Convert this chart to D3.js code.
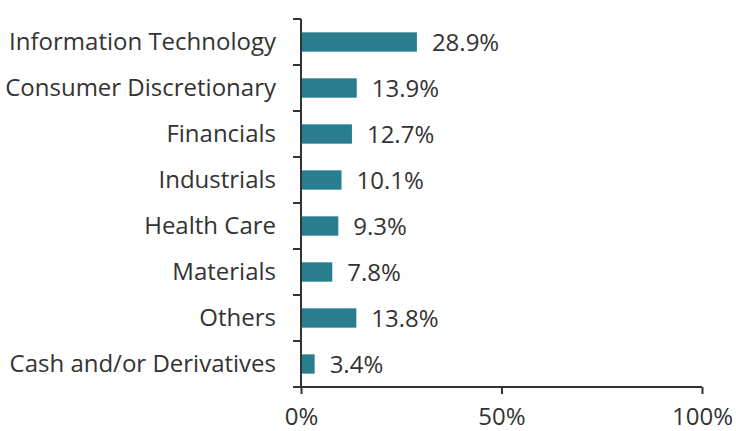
<!DOCTYPE html>
<html>
<head>
<meta charset="utf-8">
<script src="https://cdn.jsdelivr.net/npm/d3@7"></script>
<style>
  body { margin: 0; background: #fff; }
  text { font-family: "Open Sans", sans-serif; fill: #333; }
</style>
</head>
<body>
<script>
// data
var sectors = ["Information Technology", "Consumer Discretionary", "Financials", "Industrials",
               "Health Care", "Materials", "Others", "Cash and/or Derivatives"];
var weights = [28.9, 13.9, 12.7, 10.1, 9.3, 7.8, 13.8, 3.4];
var xTicks = [0, 50, 100];

// set the dimensions and margins of the graph
var margin = {top: 19, right: 34, bottom: 44, left: 301},
    width = 736 - margin.left - margin.right,
    height = 431 - margin.top - margin.bottom;

var x = d3.scaleLinear().domain([0, 100]).range([0, width]);
var y = d3.scaleBand().domain(sectors).range([0, height])
          .paddingInner(0.58).paddingOuter(0.29);

var svg = d3.select("body").append("svg")
            .attr("width", 736).attr("height", 431)
            .append("g")
            .attr("transform", "translate(" + margin.left + "," + margin.top + ")");

var data = sectors.map(function(s, i){ return {name: s, value: weights[i]}; });

// bars
svg.selectAll("rect")
    .data(data)
    .enter()
    .append("rect")
    .attr("x", x(0))
    .attr("y", function(d){ return y(d.name); })
    .attr("width", function(d){ return x(d.value) - x(0); })
    .attr("height", y.bandwidth())
    .attr("fill", "#287d8e");

// value labels
svg.selectAll(".val")
    .data(data)
    .enter()
    .append("text")
    .attr("class", "val")
    .attr("x", function(d){ return x(d.value) + 15; })
    .attr("y", function(d){ return y(d.name) + y.bandwidth() / 2; })
    .attr("dy", "0.36em")
    .style("font-size", "24px")
    .text(function(d){ return d.value.toFixed(1) + "%"; });

// y axis (labels at band centres, ticks on band edges)
var yAxis = svg.append("g")
    .call(d3.axisLeft(y).tickSize(0).tickPadding(25));
yAxis.select(".domain").remove();
yAxis.selectAll("text").style("font-size", "24px").attr("fill", "#333");

var edges = d3.range(sectors.length + 1).map(function(i){ return i * y.step(); });
svg.selectAll(".ytick")
    .data(edges)
    .enter()
    .append("line")
    .attr("x1", -8).attr("x2", 0)
    .attr("y1", function(d){ return d; })
    .attr("y2", function(d){ return d; })
    .attr("stroke", "#333").attr("stroke-width", 2);

svg.append("line")
    .attr("x1", 0).attr("x2", 0)
    .attr("y1", 0).attr("y2", height)
    .attr("stroke", "#333").attr("stroke-width", 2);

// x axis
var xAxis = svg.append("g")
    .attr("transform", "translate(0," + height + ")")
    .call(d3.axisBottom(x).tickValues(xTicks).tickSize(7).tickPadding(14)
            .tickFormat(function(d){ return d + "%"; }));
xAxis.select(".domain").attr("stroke", "#333").attr("stroke-width", 2)
    .attr("d", "M0,0H" + width);
xAxis.selectAll("line").attr("stroke", "#333").attr("stroke-width", 2);
xAxis.selectAll("text").style("font-size", "24px").attr("fill", "#333");
</script>
</body>
</html>
